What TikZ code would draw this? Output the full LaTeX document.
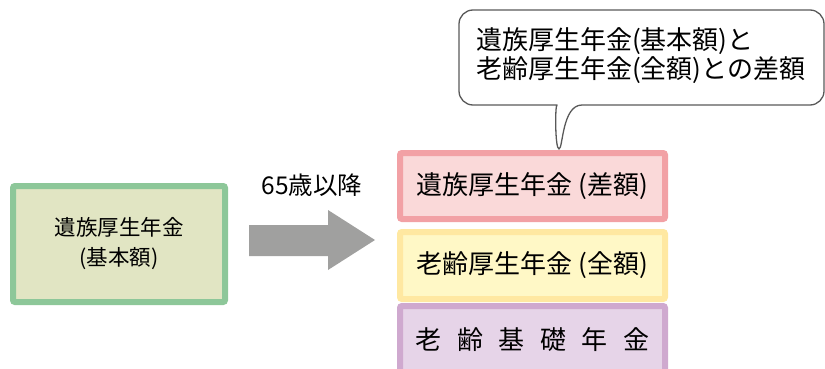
\documentclass[tikz,border=0pt]{standalone}
\usepackage{fontspec}
\setmainfont{Noto Sans CJK JP}
\definecolor{kisogreen}{HTML}{8DC799}
\definecolor{kisogreenfill}{HTML}{E1E5C3}
\definecolor{sagakuline}{HTML}{F2A1A5}
\definecolor{sagakufill}{HTML}{FAD9D9}
\definecolor{zengakuline}{HTML}{FFE8A1}
\definecolor{zengakufill}{HTML}{FFF8C6}
\definecolor{kisoline}{HTML}{CFA9CF}
\definecolor{kisofill}{HTML}{E6D4E8}
\definecolor{arrowgray}{HTML}{A0A09F}
\definecolor{noteline}{HTML}{595959}
\tikzset{
  pensionbox/.style={
    draw,
    line width=6pt,
    rounded corners=2pt,
    inner sep=0pt,
    minimum width=265pt,
    font=\fontsize{26}{29}\selectfont
  },
  startbox/.style={
    pensionbox,
    minimum width=212pt,
    minimum height=116pt,
    align=center,
    draw=kisogreen,
    fill=kisogreenfill,
    font=\fontsize{21.5}{30}\selectfont
  },
  bigtext/.style={
    inner sep=0pt,
    font=\fontsize{26}{29}\selectfont
  }
}

\begin{document}
\begin{tikzpicture}[x=1pt,y=-1pt]
  \clip (0,0) rectangle (825,369);
  % before 65
  \node[startbox] (before) at (119,244) {遺族厚生年金\\(基本額)};
  % arrow and its label
  \fill[arrowgray] (249,225) -- (328,225) -- (328,210) -- (375,240)
    -- (328,270) -- (328,256) -- (249,256) -- cycle;
  \node[bigtext, font=\fontsize{24.5}{29}\selectfont] (age) at (312,185) {65歳以降};
  % after 65
  \node[pensionbox, draw=sagakuline, fill=sagakufill, minimum height=66pt]
    (sagaku) at (532.5,186) {遺族厚生年金 (差額)};
  \node[pensionbox, draw=zengakuline, fill=zengakufill, minimum height=67pt]
    (zengaku) at (532.5,265.5) {老齢厚生年金 (全額)};
  \node[pensionbox, draw=kisoline, fill=kisofill, minimum height=68pt]
    (kiso) at (532.5,340) {{\spaceskip=0.6em 老 齢 基 礎 年 金}};
  % callout
  \draw[noteline, line width=1.3pt, line cap=round, line join=round]
    (582,105) [rounded corners=14pt] -- (824,105) -- (824,10) -- (459,10)
    -- (459,105) -- (543,105) [sharp corners]
    .. controls (555,105) and (555,149) .. (559,149)
    .. controls (563,149) and (562,105) .. (582,105);
  \node[bigtext, anchor=west, align=left] (note) at (476,55.5)
    {遺族厚生年金(基本額)と\\老齢厚生年金(全額)との差額};
\end{tikzpicture}
\end{document}
